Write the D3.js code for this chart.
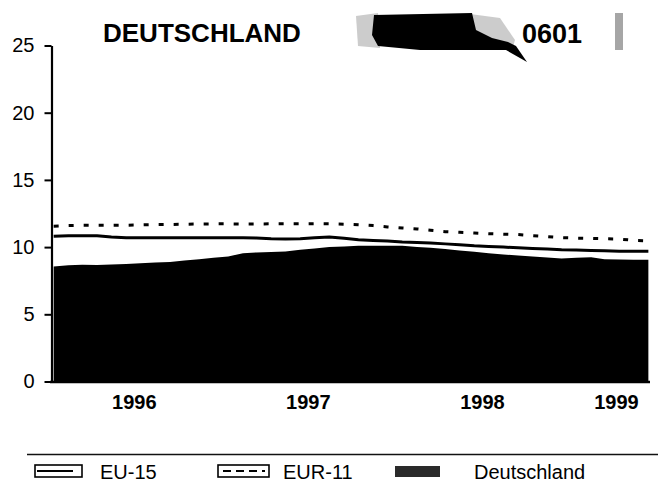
<!doctype html>
<html>
<head>
<meta charset="UTF-8">
<title>Deutschland 0601</title>
<script src="https://cdn.jsdelivr.net/npm/d3@7"></script>
<style>
    body { margin: 0; background: #fff; }
    svg { font-family: "Liberation Sans", Arial, Helvetica, sans-serif; }
</style>
</head>
<body>
<script>
    // monthly values, Jan 1996 - Jun 1999
    var months = [
        "1996-01","1996-02","1996-03","1996-04","1996-05","1996-06","1996-07","1996-08","1996-09","1996-10","1996-11","1996-12",
        "1997-01","1997-02","1997-03","1997-04","1997-05","1997-06","1997-07","1997-08","1997-09","1997-10","1997-11","1997-12",
        "1998-01","1998-02","1998-03","1998-04","1998-05","1998-06","1998-07","1998-08","1998-09","1998-10","1998-11","1998-12",
        "1999-01","1999-02","1999-03","1999-04","1999-05","1999-06"
    ];
    var eu15 = [
        10.8, 10.85, 10.85, 10.85, 10.75, 10.7, 10.7, 10.7, 10.7, 10.7, 10.7, 10.7,
        10.7, 10.7, 10.68, 10.62, 10.6, 10.62, 10.7, 10.76, 10.65, 10.55, 10.5, 10.45,
        10.38, 10.35, 10.3, 10.24, 10.18, 10.1, 10.05, 10.0, 9.95, 9.9, 9.85, 9.8,
        9.78, 9.75, 9.72, 9.7, 9.7, 9.7
    ];
    var eur11 = [
        11.56, 11.6, 11.62, 11.62, 11.62, 11.63, 11.65, 11.67, 11.68, 11.7, 11.72, 11.73,
        11.73, 11.72, 11.72, 11.73, 11.73, 11.73, 11.74, 11.73, 11.7, 11.66, 11.6, 11.5,
        11.42, 11.35, 11.25, 11.15, 11.1, 11.05, 11.0, 10.96, 10.93, 10.85, 10.78, 10.7,
        10.67, 10.65, 10.62, 10.6, 10.5, 10.47
    ];
    var deutschland = [
        8.55, 8.65, 8.68, 8.66, 8.7, 8.75, 8.8, 8.85, 8.9, 9.0, 9.1, 9.2,
        9.3, 9.55, 9.6, 9.63, 9.67, 9.8, 9.9, 10.0, 10.05, 10.1, 10.1, 10.1,
        10.1, 10.0, 9.95, 9.85, 9.75, 9.65, 9.55, 9.45, 9.38, 9.3, 9.22, 9.15,
        9.2, 9.25, 9.1, 9.08, 9.05, 9.05
    ];
    var yTicks = [0, 5, 10, 15, 20, 25];
    var yearLabels = ["1996", "1997", "1998", "1999"];
    var yearLabelAt = ["1996-07-01", "1997-07-01", "1998-07-01", "1999-04-08"];

    var svg = d3.select("body").append("svg")
        .attr("width", 658)
        .attr("height", 489);

    var parseMonth = d3.timeParse("%Y-%m");
    var parseDay = d3.timeParse("%Y-%m-%d");
    function mid(m) { var d = parseMonth(m); d.setDate(15); return d; }

    var x = d3.scaleTime()
        .domain([new Date(1996, 0, 1), new Date(1999, 6, 1)])
        .range([47, 656]);
    var y = d3.scaleLinear()
        .domain([0, 25])
        .range([381.5, 45.5]);

    // Deutschland area
    var area = d3.area()
        .x(function(d, i){ return x(mid(months[i])); })
        .y0(y(0))
        .y1(function(d){ return y(d); });
    svg.append("path")
        .datum(deutschland)
        .attr("d", area)
        .attr("fill", "#000");

    var line = d3.line()
        .x(function(d, i){ return x(mid(months[i])); })
        .y(function(d){ return y(d); });

    svg.append("path")
        .datum(eu15)
        .attr("d", line)
        .attr("fill", "none")
        .attr("stroke", "#000")
        .attr("stroke-width", 3);

    svg.append("path")
        .datum(eur11)
        .attr("d", line)
        .attr("fill", "none")
        .attr("stroke", "#000")
        .attr("stroke-width", 3)
        .attr("stroke-dasharray", "5,10");

    // y axis
    var yAxis = svg.append("g")
        .attr("transform", "translate(51.5,0)")
        .call(d3.axisLeft(y).tickValues(yTicks).tickSize(7).tickSizeOuter(0).tickPadding(10));
    yAxis.select(".domain").attr("stroke-width", 2.2);
    yAxis.selectAll(".tick line").attr("stroke-width", 2);
    yAxis.selectAll("text")
        .attr("font-size", 20)
        .attr("font-family", "Liberation Sans, Arial, sans-serif")
        .attr("fill", "#000");

    // x axis baseline
    svg.append("line")
        .attr("x1", 50).attr("x2", 650)
        .attr("y1", y(0) + 0.5).attr("y2", y(0) + 0.5)
        .attr("stroke", "#000")
        .attr("stroke-width", 2.5);

    var xAxis = svg.append("g")
        .attr("transform", "translate(0," + (y(0) + 0.5) + ")")
        .call(d3.axisBottom(x)
            .tickValues(yearLabelAt.map(parseDay))
            .tickSize(0)
            .tickPadding(13)
            .tickFormat(function(d, i){ return yearLabels[i]; }));
    xAxis.select(".domain").remove();
    xAxis.selectAll("text")
        .attr("font-size", 20)
        .attr("font-weight", "bold")
        .attr("font-family", "Liberation Sans, Arial, sans-serif")
        .attr("fill", "#000");

    // title + scan smudge
    svg.append("text")
        .attr("x", 103).attr("y", 42)
        .attr("font-size", 26)
        .attr("font-weight", "bold")
        .text("DEUTSCHLAND");

    svg.append("path")
        .attr("d", "M356,16 L378,13 L380,48 L358,46 Z")
        .attr("fill", "#aaa").attr("opacity", 0.6);
    svg.append("path")
        .attr("d", "M470,14 L500,18 L515,40 L512,50 L478,40 Z")
        .attr("fill", "#999").attr("opacity", 0.5);
    svg.append("path")
        .attr("d", "M374,15 L472,13 L476,30 L492,38 L508,42 L516,46 L527,62 L506,50 L420,50 L378,46 L372,35 Z")
        .attr("fill", "#000");
    svg.append("rect")
        .attr("x", 615).attr("y", 13).attr("width", 8).attr("height", 37)
        .attr("fill", "#888").attr("opacity", 0.75);

    svg.append("text")
        .attr("x", 522).attr("y", 43)
        .attr("font-size", 27)
        .attr("font-weight", "bold")
        .text("0601");

    // rule above legend
    svg.append("line")
        .attr("x1", 27).attr("x2", 658)
        .attr("y1", 454.5).attr("y2", 454.5)
        .attr("stroke", "#111")
        .attr("stroke-width", 1.6);

    // legend
    var lg = svg.append("g");
    lg.append("rect").attr("x", 35).attr("y", 465).attr("width", 47).attr("height", 12)
        .attr("fill", "none").attr("stroke", "#000").attr("stroke-width", 1.6);
    lg.append("line").attr("x1", 37).attr("x2", 73).attr("y1", 471).attr("y2", 471)
        .attr("stroke", "#000").attr("stroke-width", 2);
    lg.append("text").attr("x", 100).attr("y", 479).attr("font-size", 20).text("EU-15");

    lg.append("rect").attr("x", 218).attr("y", 465).attr("width", 51).attr("height", 12)
        .attr("fill", "none").attr("stroke", "#000").attr("stroke-width", 1.6);
    lg.append("line").attr("x1", 223).attr("x2", 265).attr("y1", 471).attr("y2", 471)
        .attr("stroke", "#000").attr("stroke-width", 2).attr("stroke-dasharray", "8,5");
    lg.append("text").attr("x", 283).attr("y", 479).attr("font-size", 20).text("EUR-11");

    lg.append("rect").attr("x", 395).attr("y", 466).attr("width", 45).attr("height", 11)
        .attr("fill", "#2a2a2a");
    lg.append("text").attr("x", 474).attr("y", 479).attr("font-size", 20).text("Deutschland");
</script>
</body>
</html>
